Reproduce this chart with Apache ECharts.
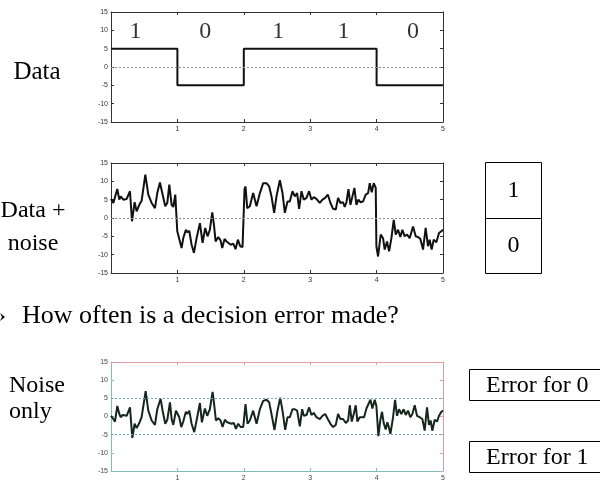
<!DOCTYPE html>
<html>
<head>
<meta charset="utf-8">
<title>Binary signalling in noise</title>
<script src="https://cdn.jsdelivr.net/npm/echarts@6/dist/echarts.min.js"></script>
<style>
  html, body { margin: 0; padding: 0; background: #fff; }
  #chart { width: 600px; height: 482px; }
</style>
</head>
<body>
<div id="chart"></div>
<script>
// Transmitted bits, one per unit of time
const bits = [1, 0, 1, 1, 0];
const bitLabelX = [0.37, 1.42, 2.52, 3.5, 4.55];
const bitLabelY = 9.7;
const levelHigh = 5;
const levelLow = -5;

// Received waveform (data + noise)
const noisyTime = [0.000,0.035,0.060,0.095,0.125,0.145,0.186,0.236,0.266,0.286,0.316,0.356,0.386,0.426,0.461,0.486,0.517,0.562,0.587,0.612,0.637,0.662,0.697,0.737,0.777,0.817,0.848,0.878,0.913,0.938,0.968,0.993,0.998,1.023,1.063,1.088,1.128,1.148,1.179,1.214,1.249,1.289,1.339,1.379,1.419,1.454,1.489,1.525,1.550,1.575,1.615,1.650,1.675,1.710,1.740,1.765,1.805,1.841,1.876,1.911,1.946,1.981,1.996,2.011,2.026,2.051,2.091,2.141,2.192,2.242,2.292,2.342,2.382,2.417,2.457,2.492,2.543,2.583,2.618,2.658,2.693,2.733,2.768,2.803,2.833,2.869,2.904,2.944,2.984,3.019,3.054,3.094,3.144,3.185,3.225,3.265,3.305,3.345,3.385,3.420,3.455,3.495,3.520,3.546,3.576,3.606,3.636,3.666,3.696,3.726,3.756,3.796,3.836,3.872,3.897,3.927,3.957,3.987,3.997,4.022,4.062,4.097,4.122,4.157,4.188,4.223,4.258,4.288,4.323,4.358,4.388,4.423,4.458,4.498,4.549,4.589,4.624,4.659,4.699,4.739,4.774,4.799,4.829,4.860,4.900,4.940,4.975,5.000];
const noisyValue = [5.2,4.1,3.6,7.9,5.0,5.9,5.0,5.2,5.0,7.3,-0.9,4.3,1.8,3.6,4.7,5.0,11.8,6.4,6.1,4.1,4.5,2.7,6.8,9.7,6.4,3.2,4.1,9.1,3.6,3.0,6.4,6.4,-3.6,-3.9,-8.2,-5.5,-3.2,-3.9,-3.5,-7.3,-9.5,-5.5,-1.4,-6.8,-2.7,-5.0,-3.2,1.5,-1.8,-6.4,-5.2,-6.1,-8.2,-5.7,-6.4,-5.9,-7.3,-7.0,-8.5,-5.9,-7.7,-7.9,-7.7,7.9,8.6,2.7,3.2,6.8,3.2,6.8,9.5,9.5,8.6,5.9,1.4,5.9,10.3,6.8,1.4,4.5,4.5,7.3,5.9,6.8,2.5,7.3,5.0,5.5,7.3,5.0,5.7,5.2,4.1,5.0,5.5,6.4,4.1,2.5,2.3,5.5,4.1,4.3,3.0,4.3,7.9,3.6,5.9,8.2,3.6,5.0,4.3,4.5,6.4,6.8,9.5,7.0,9.5,8.2,-7.7,-10.5,-4.5,-5.5,-8.6,-6.4,-9.1,-5.5,-0.5,-4.5,-3.2,-5.2,-3.2,-5.0,-4.5,-5.5,-2.3,-5.0,-5.2,-5.7,-8.6,-2.7,-7.7,-5.9,-8.6,-5.9,-6.6,-4.1,-3.6,-3.2];

// Noise alone
const noiseTime = [0.000,0.035,0.060,0.095,0.125,0.145,0.176,0.236,0.266,0.286,0.321,0.356,0.386,0.426,0.461,0.486,0.522,0.562,0.587,0.612,0.637,0.662,0.697,0.747,0.777,0.817,0.848,0.888,0.913,0.938,0.978,1.003,1.028,1.058,1.088,1.128,1.148,1.179,1.214,1.254,1.289,1.339,1.369,1.414,1.449,1.489,1.530,1.555,1.580,1.615,1.650,1.680,1.715,1.750,1.780,1.815,1.851,1.881,1.916,1.951,1.991,2.026,2.056,2.091,2.141,2.192,2.242,2.292,2.342,2.382,2.417,2.462,2.503,2.548,2.583,2.623,2.658,2.693,2.733,2.768,2.803,2.844,2.879,2.904,2.944,2.984,3.019,3.054,3.094,3.144,3.185,3.225,3.265,3.305,3.345,3.385,3.420,3.455,3.495,3.536,3.571,3.596,3.626,3.656,3.686,3.711,3.746,3.776,3.811,3.847,3.877,3.907,3.937,3.972,3.997,4.027,4.057,4.082,4.107,4.137,4.162,4.188,4.208,4.248,4.278,4.308,4.338,4.373,4.408,4.438,4.473,4.508,4.539,4.574,4.609,4.649,4.689,4.724,4.759,4.789,4.814,4.839,4.875,4.910,4.940,4.975,5.000];
const noiseValue = [0.2,-0.7,-1.4,2.9,0.7,-0.2,0.4,0.2,0.2,2.5,-5.9,-2.0,-3.2,-1.8,-0.2,0.0,7.0,1.6,1.3,-1.1,-0.7,-2.3,2.0,4.9,1.6,-2.0,-0.9,3.9,-0.7,-2.3,1.6,1.3,-0.2,-2.9,-1.4,1.3,0.7,1.6,-2.0,-4.3,-1.1,3.7,-1.6,2.2,0.2,2.0,6.8,3.1,-1.1,-0.5,-1.1,-2.9,-0.9,-1.6,-1.1,-2.0,-1.8,-3.4,-2.0,-2.9,-2.9,3.4,-2.0,-1.1,1.6,-2.0,2.0,4.3,4.6,3.9,0.7,-3.7,1.1,5.2,1.6,-3.7,-0.2,-0.2,2.0,2.0,1.6,-2.7,2.0,0.2,0.4,2.5,0.4,1.0,-0.2,-0.7,0.2,0.7,-0.7,-2.0,-2.9,-2.3,0.7,-0.7,-0.7,-1.8,-1.1,3.1,-1.4,0.7,3.1,-1.4,-0.2,-0.7,-0.2,2.2,1.8,4.6,2.2,4.6,2.9,-5.4,-0.9,1.3,-1.8,-3.6,-1.6,-3.2,-4.8,-0.2,4.6,0.2,2.0,0.7,2.0,0.4,1.6,-0.2,0.7,3.1,0.2,-0.2,-0.7,-3.9,2.5,-2.3,-1.1,-3.9,-0.9,-1.4,0.2,1.3,1.6];

// Axis ticks
const xTicks = [0, 1, 2, 3, 4, 5];
const yTicks = [-15, -10, -5, 0, 5, 10, 15];
const noiseThresholds = [5, -5];

// Text on the slide
const rowLabels = ['Data', 'Data +\nnoise', 'Noise\nonly'];
const question = 'How often is a decision error made?';
const decisionLabels = ['1', '0'];
const errorLabels = ['Error for 0', 'Error for 1'];

// ---- build series data ----
const dataStep = bits.map((b, i) => [i, b ? levelHigh : levelLow]);
dataStep.push([bits.length, bits[bits.length - 1] ? levelHigh : levelLow]);
const noisyData = noisyTime.map((t, i) => [t, noisyValue[i]]);
const noiseData = noiseTime.map((t, i) => [t, noiseValue[i]]);
const bitLabelData = bits.map((b, i) => [bitLabelX[i], bitLabelY, String(b)]);

const grids = [
  { left: 111, top: 12, width: 332, height: 110 },
  { left: 111, top: 163, width: 332, height: 110 },
  { left: 111, top: 362, width: 332, height: 110 }
];

const frameColors = [
  { bottom: '#333', left: '#333', top: '#333', right: '#333', label: '#333' },
  { bottom: '#333', left: '#333', top: '#333', right: '#333', label: '#333' },
  { bottom: '#7fbcbc', left: '#7fbcbc', top: '#e79aa0', right: '#e79aa0', label: '#444' }
];

const xAxes = [];
const yAxes = [];
grids.forEach((g, i) => {
  const c = frameColors[i];
  const xMin = xTicks[0], xMax = xTicks[xTicks.length - 1];
  const yMin = yTicks[0], yMax = yTicks[yTicks.length - 1];
  xAxes.push({
    type: 'value', gridIndex: i, position: 'bottom', min: xMin, max: xMax, interval: 1,
    axisLine: { show: true, onZero: false, lineStyle: { color: c.bottom, width: 1 } },
    axisTick: { show: true, inside: true, length: 3, lineStyle: { color: c.bottom } },
    axisLabel: { show: true, color: c.label, fontSize: 7, fontFamily: 'Liberation Sans, Arial', margin: 4,
      formatter: v => (v === xMin ? '' : String(v)) },
    splitLine: { show: false }
  });
  xAxes.push({
    type: 'value', gridIndex: i, position: 'top', min: xMin, max: xMax, interval: 1,
    axisLine: { show: true, onZero: false, lineStyle: { color: c.top, width: 1 } },
    axisTick: { show: true, inside: true, length: 3, lineStyle: { color: c.top } },
    axisLabel: { show: false }, splitLine: { show: false }
  });
  yAxes.push({
    type: 'value', gridIndex: i, position: 'left', min: yMin, max: yMax, interval: 5,
    axisLine: { show: true, onZero: false, lineStyle: { color: c.left, width: 1 } },
    axisTick: { show: true, inside: true, length: 3, lineStyle: { color: c.left } },
    axisLabel: { show: true, color: c.label, fontSize: 7, fontFamily: 'Liberation Sans, Arial', margin: 3 },
    splitLine: { show: false }
  });
  yAxes.push({
    type: 'value', gridIndex: i, position: 'right', min: yMin, max: yMax, interval: 5,
    axisLine: { show: true, onZero: false, lineStyle: { color: c.right, width: 1 } },
    axisTick: { show: true, inside: true, length: 3, lineStyle: { color: c.right } },
    axisLabel: { show: false }, splitLine: { show: false }
  });
});

const zeroLine = (color) => ({
  silent: true, symbol: 'none', label: { show: false },
  lineStyle: { type: [2, 2], color: color, width: 1 },
  data: [{ yAxis: 0 }]
});

const series = [
  {
    type: 'line', xAxisIndex: 0, yAxisIndex: 0, data: dataStep, step: 'end',
    showSymbol: false, lineStyle: { color: '#111', width: 2 },
    markLine: zeroLine('#8a8a8a'), z: 3
  },
  {
    type: 'scatter', xAxisIndex: 0, yAxisIndex: 0, data: bitLabelData, symbolSize: 0,
    label: { show: true, position: 'inside', formatter: p => p.data[2],
      fontFamily: 'Liberation Serif, Times New Roman, serif', fontSize: 24, color: '#000' }
  },
  {
    type: 'line', xAxisIndex: 2, yAxisIndex: 2, data: noisyData,
    showSymbol: false, lineStyle: { color: '#111', width: 2 },
    markLine: zeroLine('#8a8a8a'), z: 3
  },
  {
    type: 'line', xAxisIndex: 4, yAxisIndex: 4, data: noiseData,
    showSymbol: false, lineStyle: { color: '#14261e', width: 2 },
    markLine: {
      silent: true, symbol: 'none', label: { show: false },
      lineStyle: { type: [2, 2], color: '#6fa8a8', width: 1 },
      data: noiseThresholds.map(v => ({ yAxis: v }))
    }, z: 3
  }
];

const serif = 'Liberation Serif, "Times New Roman", Times, serif';
const textStyle = (text, x, y, align, size, lh) => ({
  type: 'text', x: x, y: y,
  style: { text: text, fill: '#000', font: size + 'px ' + serif, align: align, verticalAlign: 'middle', lineHeight: lh || 29 }
});

const graphic = [
  textStyle(rowLabels[0], 37, 72, 'center', 25),
  textStyle(rowLabels[1], 33, 227, 'center', 24, 33),
  textStyle(rowLabels[2], 9, 399, 'left', 24, 26),
  { type: 'polygon', shape: { points: [[0, 313], [5, 317], [0, 321], [2, 317]] }, style: { fill: '#000' } },
  textStyle(question, 22, 316, 'left', 26),
  { type: 'rect', shape: { x: 485.5, y: 162.5, width: 56, height: 111 }, style: { fill: 'none', stroke: '#000', lineWidth: 1 } },
  { type: 'line', shape: { x1: 485.5, y1: 218.5, x2: 541.5, y2: 218.5 }, style: { stroke: '#000', lineWidth: 1 } },
  textStyle(decisionLabels[0], 513.5, 191, 'center', 24),
  textStyle(decisionLabels[1], 513.5, 246, 'center', 24),
  { type: 'rect', shape: { x: 469.5, y: 369.5, width: 140, height: 31 }, style: { fill: 'none', stroke: '#000', lineWidth: 1 } },
  { type: 'rect', shape: { x: 469.5, y: 441.5, width: 140, height: 31 }, style: { fill: 'none', stroke: '#000', lineWidth: 1 } },
  textStyle(errorLabels[0], 486, 386, 'left', 24),
  textStyle(errorLabels[1], 486, 458, 'left', 24)
];

const chart = echarts.init(document.getElementById('chart'), null, { renderer: 'canvas' });
chart.setOption({
  animation: false,
  backgroundColor: '#fff',
  grid: grids,
  xAxis: xAxes,
  yAxis: yAxes,
  series: series,
  graphic: graphic
});
</script>
</body>
</html>
